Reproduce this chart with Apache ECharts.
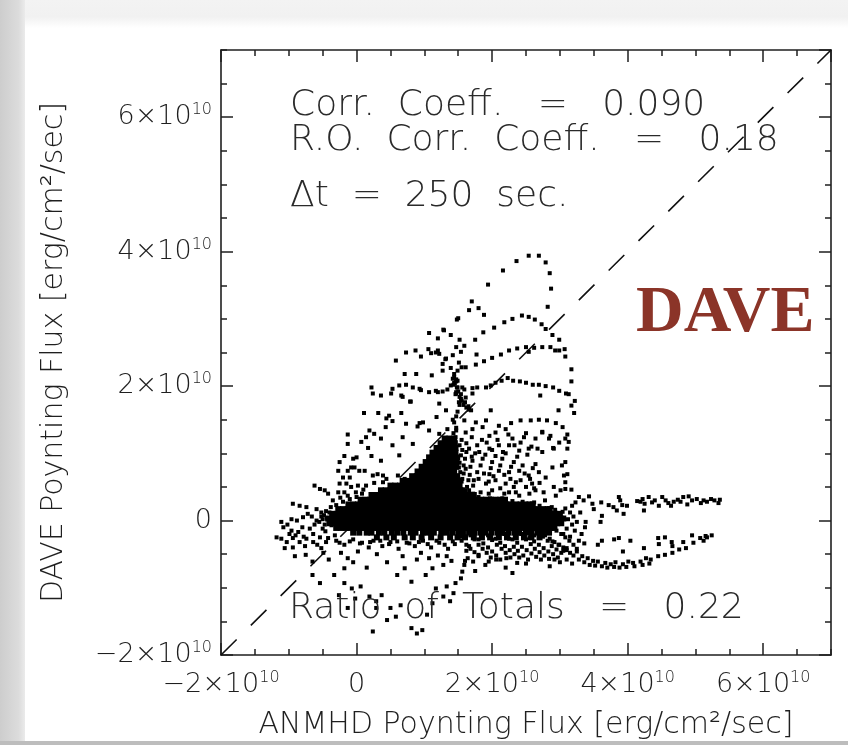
<!DOCTYPE html>
<html>
<head>
<meta charset="utf-8">
<script src="https://cdn.jsdelivr.net/npm/echarts@6/dist/echarts.min.js"></script>
<style>
html, body { margin: 0; padding: 0; background: #ffffff; }
#chart { width: 848px; height: 745px; }
</style>
</head>
<body>
<div id="chart"></div>
<script>
// All flux values are in units of 10^10 erg/cm^2/sec.

// Axis range and ticks
const axisMin = -2;
const axisMax = 7;
const majorStep = 2;
const minorStep = 0.5;
const majorTicks = [-2, 0, 2, 4, 6];

// Dense core of the distribution, stored row by row: [DAVE flux, [ANMHD flux, ...]]
const coreRows = [
  [1.22, [1.30,1.37,1.44]],
  [1.15, [1.24,1.31,1.38,1.45]],
  [1.08, [1.18,1.25,1.32,1.39,1.46]],
  [1.01, [1.12,1.19,1.26,1.33,1.40,1.46]],
  [0.94, [1.07,1.14,1.21,1.27,1.34,1.41,1.47]],
  [0.87, [1.02,1.09,1.15,1.22,1.29,1.36,1.42,1.47]],
  [0.80, [0.96,1.03,1.10,1.16,1.23,1.30,1.37,1.43,1.47]],
  [0.73, [0.90,0.97,1.04,1.10,1.17,1.24,1.31,1.38,1.44]],
  [0.66, [0.82,0.89,0.96,1.02,1.09,1.16,1.23,1.30,1.37,1.44,1.48]],
  [0.59, [0.68,0.75,0.82,0.88,0.95,1.02,1.09,1.16,1.23,1.30,1.36,1.43,1.50]],
  [0.52, [0.50,0.57,0.64,0.71,0.78,0.84,0.91,0.98,1.05,1.12,1.19,1.26,1.32,1.39,1.46,1.52]],
  [0.45, [0.36,0.43,0.50,0.57,0.63,0.70,0.77,0.84,0.91,0.98,1.05,1.11,1.18,1.25,1.32,1.39,1.46,1.53,1.56]],
  [0.38, [0.22,0.29,0.36,0.43,0.49,0.56,0.63,0.70,0.77,0.84,0.91,0.97,1.04,1.11,1.18,1.25,1.32,1.39,1.45,1.52,1.59,1.66,1.73]],
  [0.31, [0.06,0.13,0.20,0.27,0.33,0.40,0.47,0.54,0.61,0.68,0.75,0.81,0.88,0.95,1.02,1.09,1.16,1.23,1.29,1.36,1.43,1.50,1.57,1.64,1.71,1.77,1.84,1.91,1.98,2.05,2.12,2.19]],
  [0.24, [-0.12,-0.05,0.02,0.09,0.15,0.22,0.29,0.36,0.43,0.50,0.57,0.63,0.70,0.77,0.84,0.91,0.98,1.05,1.11,1.18,1.25,1.32,1.39,1.46,1.53,1.59,1.66,1.73,1.80,1.87,1.94,2.01,2.07,2.14,2.21,2.28,2.35,2.42,2.49,2.55,2.60]],
  [0.17, [-0.27,-0.20,-0.13,-0.06,0.01,0.07,0.14,0.21,0.28,0.35,0.42,0.49,0.55,0.62,0.69,0.76,0.83,0.90,0.97,1.03,1.10,1.17,1.24,1.31,1.38,1.45,1.51,1.58,1.65,1.72,1.79,1.86,1.93,1.99,2.06,2.13,2.20,2.27,2.34,2.41,2.47,2.54,2.61,2.68,2.75,2.82,2.85]],
  [0.10, [-0.36,-0.29,-0.22,-0.15,-0.08,-0.02,0.05,0.12,0.19,0.26,0.33,0.40,0.46,0.53,0.60,0.67,0.74,0.81,0.88,0.94,1.01,1.08,1.15,1.22,1.29,1.36,1.42,1.49,1.56,1.63,1.70,1.77,1.84,1.90,1.97,2.04,2.11,2.18,2.25,2.32,2.38,2.45,2.52,2.59,2.66,2.73,2.80,2.86,2.93,3.00]],
  [0.03, [-0.42,-0.35,-0.28,-0.21,-0.14,-0.08,-0.01,0.06,0.13,0.20,0.27,0.34,0.40,0.47,0.54,0.61,0.68,0.75,0.82,0.88,0.95,1.02,1.09,1.16,1.23,1.30,1.36,1.43,1.50,1.57,1.64,1.71,1.78,1.84,1.91,1.98,2.05,2.12,2.19,2.26,2.32,2.39,2.46,2.53,2.60,2.67,2.74,2.80,2.87,2.94,3.01,3.05]],
  [-0.04, [-0.40,-0.33,-0.26,-0.19,-0.12,-0.05,0.01,0.08,0.15,0.22,0.29,0.36,0.43,0.49,0.56,0.63,0.70,0.77,0.84,0.91,0.97,1.04,1.11,1.18,1.25,1.32,1.39,1.45,1.52,1.59,1.66,1.73,1.80,1.87,1.93,2.00,2.07,2.14,2.21,2.28,2.35,2.41,2.48,2.55,2.62,2.69,2.76,2.83,2.89,2.96,3.02]],
  [-0.11, [-0.30,-0.23,-0.16,-0.09,-0.02,0.04,0.11,0.18,0.25,0.32,0.39,0.46,0.52,0.59,0.66,0.73,0.80,0.87,0.94,1.00,1.07,1.14,1.21,1.28,1.35,1.42,1.48,1.55,1.62,1.69,1.76,1.83,1.90,1.96,2.03,2.10,2.17,2.24,2.31,2.38,2.44,2.51,2.58,2.65,2.72,2.79,2.86,2.92]],
  [-0.18, [-0.05,0.04,0.15,0.22,0.33,0.41,0.52,0.60,0.69,0.80,0.87,0.98,1.06,1.14,1.25,1.33,1.41,1.50,1.57,1.66,1.74,1.83,1.90,1.99,2.08,2.15,2.24,2.33,2.40,2.50,2.58,2.67,2.75,2.84]],
  [-0.25, [0.30,0.44,0.55,0.71,0.83,0.96,1.10,1.24,1.38,1.49,1.60,1.73,1.85,1.97,2.10,2.22,2.35,2.47,2.58,2.70]]
];

// Upper arcs: [ANMHD, DAVE]
const arcTop = [
  [1.94,3.51],[2.16,3.72],[2.36,3.86],[2.54,3.94],[2.69,3.94],[2.79,3.84],[2.85,3.68],[2.87,3.45],[2.82,3.18],
  [1.70,3.26],[1.80,3.16],[1.66,3.13],[1.88,3.06],[1.48,2.99],[1.50,3.01]
];
const arcSecond = [
  [1.87,2.80],[2.03,2.87],[2.18,2.95],[2.30,3.00],[2.44,3.05],[2.54,3.03],[2.63,2.99],[2.73,2.92],[2.79,2.85],
  [2.89,2.76],[2.99,2.69],[3.07,2.55],[3.08,2.44],[3.17,2.25],[3.17,2.07],[3.13,1.88],[3.22,1.78],[3.21,1.60]
];
const arcThird = [
  [1.49,2.23],[1.61,2.28],[1.76,2.32],[1.88,2.37],[2.00,2.42],[2.13,2.47],[2.25,2.53],[2.37,2.56],[2.50,2.58],
  [2.62,2.57],[2.74,2.58],[2.86,2.58],[2.99,2.53],[2.54,2.51],[2.93,2.53]
];
const arcFourth = [
  [1.51,1.76],[1.61,1.83],[1.71,1.89],[1.59,1.95],[1.71,1.97],[1.78,1.98],[1.91,1.98],[1.98,2.01],[2.05,2.05],
  [2.14,2.08],[2.23,2.12],[2.31,2.08],[2.41,2.07],[2.50,2.05],[2.60,2.02],[2.69,2.02],[2.79,2.00],[2.90,1.98],
  [2.99,1.93],[3.09,1.89]
];
const arcFifth = [
  [2.10,1.41],[2.28,1.45],[2.42,1.49],[2.57,1.49],[2.69,1.50],[2.81,1.49],[2.94,1.45],[3.04,1.39],[3.11,1.28],
  [3.13,1.17],[3.11,1.07],[2.74,1.31],[2.86,1.26],[2.99,1.16],[3.08,1.22],[2.67,1.07],[2.90,1.08],[2.98,1.64],
  [3.17,1.71],[2.71,1.86]
];

// Scattered points above the core
const upperCloud = [
  [1.07,2.79],[1.28,2.84],[1.20,2.71],[1.39,2.76],[1.29,2.83],[1.52,2.69],[1.59,2.60],[1.47,2.58],[1.75,2.69],
  [0.73,2.50],[0.87,2.53],[0.95,2.44],[1.06,2.55],[1.10,2.49],[1.20,2.53],[1.22,2.48],[1.17,2.50],[1.27,2.33],
  [1.31,2.40],[1.42,2.46],[1.32,2.41],[1.54,2.51],[1.51,2.35],[1.55,2.28],[1.39,2.27],[0.58,2.38],[1.77,2.47],
  [0.71,2.18],[0.88,2.18],[1.11,2.16],[1.27,2.23],[1.44,2.18],[1.49,2.08],[1.56,1.98],[1.47,1.89],[1.42,2.11],
  [1.44,2.13],[1.47,2.07],[1.43,2.02],[1.49,1.98],[1.47,1.91],[1.54,1.88],
  [0.22,1.98],[0.24,1.89],[0.36,1.86],[0.51,1.89],[0.53,1.96],[0.63,2.01],[0.73,2.02],[0.83,1.98],[0.95,1.94],
  [1.07,1.91],[1.20,1.91],[0.66,1.86],[0.79,1.77],[1.22,1.74],[0.93,1.96],[1.17,1.93],[1.27,1.92],[1.34,1.95],
  [1.39,2.01],[1.44,2.05],[0.68,1.84],[0.80,1.77],
  [0.11,1.60],[0.32,1.60],[0.48,1.56],[0.66,1.60],[0.93,1.45],[0.73,1.44],[0.53,1.48],[1.18,1.54],[1.32,1.64],
  [1.42,1.50],[0.44,1.52],[0.43,1.39],[0.98,1.46],[0.90,1.40],
  [-0.13,1.28],[-0.13,1.14],[0.07,1.17],[0.19,1.34],[0.26,1.29],[0.36,1.22],[0.53,1.12],[0.68,1.24],[0.83,1.14],
  [1.07,1.34],[1.22,1.29],[1.34,1.36],[1.47,1.34],[0.14,1.24]
];

// Dotted streak that runs up from the top of the core
const streak = [
  [1.47,2.10],[1.45,2.04],[1.48,1.98],[1.50,1.92],[1.46,1.88],[1.52,1.84],[1.55,1.78],[1.58,1.72],[1.62,1.68],
  [1.66,1.65],[1.52,1.72],[1.49,1.62],[1.47,1.55],[1.44,1.46],[1.47,1.38],[1.43,1.30],[1.46,1.24],
  [1.54,1.81],[1.60,1.76],[1.65,1.70],[1.69,1.64]
];

// Left flank of the core
const leftCloud = [
  [0.17,1.08],[0.22,0.96],[0.36,0.89],[-0.18,0.96],[-0.25,0.87],[-0.05,0.92],[0.00,0.94],[-0.08,0.79],[-0.13,0.74],
  [-0.03,0.79],[0.04,0.74],[0.12,0.74],[-0.27,0.74],[-0.20,0.64],[-0.10,0.64],[0.24,0.67],[0.31,0.69],[0.39,0.67],
  [0.44,0.62],[-0.25,0.55],[-0.15,0.55],[-0.08,0.50],[0.02,0.52],[0.14,0.52],[0.26,0.56],[0.39,0.57],[-0.27,0.42],
  [-0.18,0.42],[-0.13,0.37],[-0.01,0.42],[0.10,0.46],[-0.62,0.52],[-0.54,0.47],[-0.47,0.45],[-0.42,0.40],
  [-0.94,0.25],[-0.84,0.22],[-0.74,0.20],[-0.72,0.10],[-0.96,0.02],[-0.79,0.05],[-0.59,0.17],[-0.52,0.12],
  [-0.40,0.12],[-0.59,0.00],[-1.11,-0.02],[-1.08,-0.10],[-1.18,-0.25],[-1.11,-0.27],[-1.03,-0.32],[-0.94,-0.26],
  [-0.84,-0.32],[-0.74,-0.27],[-0.64,-0.32],[-0.54,-0.25],[-0.45,-0.32],[-0.96,-0.15],[-0.86,-0.17],[-0.69,-0.12],
  [-0.50,-0.12],[-0.37,-0.07],[-0.32,-0.22],
  [-0.99,-0.20],[-0.90,-0.22],[-0.80,-0.10],[-0.78,-0.24],[-0.64,-0.20],[-0.62,-0.06],[-0.55,-0.02],[-0.46,-0.16],
  [-0.44,0.04],[-0.48,0.08],[-0.66,0.06],[-0.88,0.00],[-1.02,-0.06],[-0.42,-0.26],[-0.58,-0.36],[-0.76,-0.38],
  [-0.94,-0.40],
  [-0.50,0.02],[-0.47,-0.06],[-0.52,0.06],[-0.45,0.14],[-0.38,0.20],[-0.30,0.23],[-0.20,0.28],[-0.10,0.32],
  [0.00,0.35],[0.08,0.40],[-0.35,0.30],[-0.24,0.34]
];

// Right of the core peak
const midCloud = [
  [0.63,0.97],[0.61,0.67],[0.71,0.62],[1.59,1.49],[1.76,1.46],[1.91,1.49],[1.98,1.64],
  [1.61,1.31],[1.71,1.36],[1.86,1.39],[1.96,1.26],[2.05,1.31],[2.20,1.36],[2.30,1.22],[2.47,1.24],[2.64,1.22],
  [2.84,1.22],[2.74,1.32],[2.91,1.07],[2.74,1.02],[2.54,1.07],[2.40,1.04],[2.25,1.12],[2.10,1.12],[1.96,1.07],
  [1.81,1.02],[1.66,1.07],[1.54,0.97],[1.71,0.89],[1.86,0.92],[2.00,0.87],[2.15,0.92],[2.32,0.87],[2.45,0.82],
  [2.64,0.84],[2.89,0.79],[2.79,0.64],[2.69,0.72],[2.54,0.67],[2.40,0.74],[2.25,0.72],[2.10,0.74],[1.96,0.69],
  [1.78,0.72],[1.61,0.77],[1.56,0.62],[1.73,0.60],[1.91,0.55],[2.05,0.60],[2.20,0.55],[2.35,0.57],[2.50,0.50],
  [2.64,0.45],[2.76,0.42],[2.91,0.50],[2.94,0.37],[2.59,0.55],[1.66,0.45],[1.83,0.42],[2.00,0.45],[2.18,0.40],
  [2.35,0.42],
  [1.55,1.20],[1.62,1.15],[1.70,1.24],[1.78,1.12],[1.85,1.20],[1.92,1.16],[2.00,1.05],[2.08,1.20],[2.16,1.02],
  [2.24,1.28],[2.33,1.12],[2.42,1.16],[2.50,1.30],[2.58,1.10],[1.52,0.86],[1.60,0.92],[1.68,0.80],[1.75,1.00],
  [1.83,0.82],[1.90,0.98],[1.98,0.78],[2.05,0.96],[2.12,0.82],[2.20,1.00],[2.28,0.80],[2.37,0.95],[2.52,0.98],
  [2.60,0.78],[1.52,0.55],[1.58,0.70],[1.65,0.60],[1.72,0.52],[1.80,0.62],[1.88,0.70],[1.95,0.58],[2.02,0.66],
  [2.12,0.48],[2.18,0.68],[2.27,0.62],[2.32,0.50],[2.42,0.60],[2.48,0.70],[2.56,0.62],[2.62,0.48],[2.70,0.56],
  [1.60,0.44],[1.72,0.40],[1.95,0.40],[2.25,0.42],[2.40,0.37],[2.55,0.40],
  [3.08,0.87],[3.06,0.67],[3.11,0.69],[3.08,0.57],[3.01,0.45],[3.08,0.47],[3.17,0.46],[3.03,0.82],
  [1.50,0.50],[1.55,0.58],[1.53,0.72],[1.58,0.82],[1.50,0.92],[1.56,1.05],[1.52,1.12],[1.63,0.50],[1.67,0.68],
  [1.70,0.95],[1.62,1.02],[1.50,0.66],[1.51,0.79],
  [1.80,0.35],[1.97,0.33],[2.15,0.33],[2.30,0.29],[2.45,0.28],[2.62,0.27],[2.70,0.22],[2.78,0.30],[2.88,0.20],
  [2.93,0.16],[3.04,0.13]
];

// Right end of the core
const coreEnd = [
  [3.28,0.35],[3.43,0.36],[3.35,0.30],[3.48,0.25],[3.50,0.17],[3.23,0.27],[3.30,0.12],[3.18,0.22],[3.61,0.27],
  [3.72,0.23],[3.79,0.20],[3.87,0.35],[3.89,0.30],[3.92,0.23],[3.99,0.22],[3.84,0.15],[3.94,0.10],[3.62,0.07],
  [3.60,-0.02],[3.38,-0.02],[3.37,-0.10],
  [3.08,0.18],[3.15,0.12],[3.12,0.02],[3.20,0.06],[3.18,-0.06],[3.25,-0.02],[3.10,-0.12],[3.22,-0.15],
  [3.32,-0.20],[3.05,-0.20],[3.15,-0.24],[3.28,-0.30],[3.36,-0.34]
];

// Upper right branch
const upperBranch = [
  [4.14,0.29],[4.19,0.28],[4.25,0.25],[4.31,0.35],[4.36,0.27],[4.46,0.22],[4.51,0.35],[4.60,0.26],[4.68,0.28],
  [4.74,0.31],[4.82,0.35],[4.90,0.36],[5.02,0.32],[5.08,0.26],[5.17,0.28],[5.23,0.32],[5.34,0.26],[5.36,0.31],
  [4.24,0.15],[4.22,0.32],[4.40,0.30],[4.56,0.30],[4.64,0.22],[4.78,0.28],[4.95,0.30],[5.12,0.30],[5.28,0.30],
  [4.88,0.24]
];

// Lower right branch
const lowerBranch = [
  [2.89,-0.31],[2.99,-0.36],[3.10,-0.41],[3.15,-0.48],[3.25,-0.46],[3.33,-0.53],[3.41,-0.56],[3.49,-0.60],
  [3.56,-0.61],[3.67,-0.63],[3.75,-0.65],[3.82,-0.62],[3.93,-0.65],[4.01,-0.61],[4.08,-0.63],[4.19,-0.61],
  [4.27,-0.56],[4.34,-0.58],[4.45,-0.53],[4.55,-0.51],[4.66,-0.48],[4.76,-0.43],[4.86,-0.41],[4.97,-0.33],
  [5.07,-0.26],[5.15,-0.23],
  [3.56,-0.36],[3.80,-0.28],[3.93,-0.46],[4.24,-0.41],[4.45,-0.26],[4.66,-0.38],
  [3.05,-0.45],[3.20,-0.52],[3.28,-0.58],[3.36,-0.62],[3.44,-0.66],[3.52,-0.67],[3.62,-0.68],[3.70,-0.70],
  [3.80,-0.69],[3.88,-0.70],[3.98,-0.69],[4.10,-0.68],[4.22,-0.66],[4.32,-0.64],
  [3.62,-0.30],[3.87,-0.26],[4.04,-0.30],[4.46,-0.35],[4.55,-0.25],[4.65,-0.32],[4.82,-0.32],[4.95,-0.22],
  [5.12,-0.30],[5.17,-0.25],[5.24,-0.22],
  [2.92,-0.58],[3.00,-0.62],[3.10,-0.58],[3.18,-0.64]
];

// Striated region under the core
const underCore = [
  [1.55,-0.30],[1.62,-0.36],[1.68,-0.42],[1.74,-0.47],[1.80,-0.53],
  [1.80,-0.28],[1.87,-0.34],[1.94,-0.40],[2.00,-0.46],[2.06,-0.52],[2.12,-0.58],
  [2.05,-0.27],[2.12,-0.33],[2.19,-0.38],[2.26,-0.44],[2.33,-0.50],[2.40,-0.55],
  [2.30,-0.28],[2.37,-0.33],[2.44,-0.39],[2.51,-0.44],[2.58,-0.49],[2.65,-0.54],[2.72,-0.58],
  [2.55,-0.26],[2.62,-0.31],[2.69,-0.36],[2.76,-0.41],[2.83,-0.46],[2.90,-0.50],[2.97,-0.55],
  [2.78,-0.22],[2.85,-0.27],[2.92,-0.32],[2.98,-0.36],[3.05,-0.40],[3.10,-0.44],
  [2.95,-0.15],[3.02,-0.20],[3.08,-0.25],[3.14,-0.30],[3.20,-0.36],[3.25,-0.42],
  [1.68,-0.22],[1.74,-0.28],[1.80,-0.36],[1.86,-0.42],[1.92,-0.48],[1.98,-0.55],
  [1.94,-0.22],[2.00,-0.29],[2.07,-0.36],[2.14,-0.42],[2.20,-0.48],[2.27,-0.55],
  [2.18,-0.20],[2.25,-0.27],[2.32,-0.39],[2.38,-0.45],[2.46,-0.52],[2.53,-0.58],
  [2.43,-0.20],[2.50,-0.28],[2.57,-0.35],[2.63,-0.42],[2.70,-0.47],[2.77,-0.52],[2.84,-0.57],
  [2.68,-0.18],[2.75,-0.24],[2.82,-0.30],[2.88,-0.38],[2.95,-0.43],[3.02,-0.48],
  [1.60,-0.60],[1.90,-0.66],[2.20,-0.70],[2.50,-0.64],[2.85,-0.68],[1.75,-0.75],[2.30,-0.78],
  [-0.30,-0.30],[-0.18,-0.36],[-0.05,-0.28],[0.08,-0.33],[0.18,-0.40],[0.25,-0.30],[0.38,-0.38],[0.50,-0.32],
  [0.62,-0.42],[0.74,-0.33],[0.86,-0.38],[0.98,-0.30],[1.10,-0.40],[1.22,-0.33],[1.35,-0.42],[1.45,-0.35],
  [0.02,-0.46],[0.30,-0.50],[0.45,-0.62],[0.95,-0.48],[1.20,-0.52],[1.40,-0.60],[-0.05,-0.62],[0.15,-0.70],
  [-0.25,-0.33],[-0.10,-0.31],[0.05,-0.34],[0.20,-0.32],[0.35,-0.30],[0.48,-0.35],[0.60,-0.31],[0.78,-0.34],
  [0.92,-0.32],[1.05,-0.35],[1.18,-0.30],[1.30,-0.36],[1.42,-0.31],[1.55,-0.24],[1.85,-0.22],[2.62,-0.22],
  [2.80,-0.16]
];

// Sparse points below the core
const lowerCloud = [
  [-1.06,-0.41],[-0.52,-0.41],[-0.91,-0.53],[-0.75,-0.51],[-0.65,-0.61],[-0.49,-0.48],[-0.41,-0.58],[-0.23,-0.48],
  [-0.13,-0.56],[0.60,-0.81],[0.71,-0.71],[0.81,-0.91],[1.02,-0.81],[1.12,-0.71],[0.68,-0.53],[0.89,-0.58],
  [1.07,-0.56],[1.28,-0.66],[1.33,-0.53],[1.72,-0.61],[1.80,-0.51],[1.95,-0.61],[2.06,-0.58],[2.21,-0.56],
  [2.37,-0.63],[1.46,-0.93],[1.54,-0.86],[1.56,-0.76],[1.59,-0.66],[1.64,-0.56],[1.62,-0.45],[1.66,-0.38],
  [1.43,-1.08],[1.33,-0.98],[1.38,-1.20],[1.28,-1.13],[1.17,-1.01],[1.12,-1.23],[1.04,-1.40],[0.97,-1.63],
  [0.89,-1.68],[0.81,-1.60],[0.65,-1.26],[0.58,-1.43],[0.45,-1.48],[0.24,-1.65],[0.50,-1.30],[0.29,-1.30],
  [0.37,-1.11],[0.29,-1.20],[0.19,-1.13],[-0.02,-1.16],[-0.13,-1.30],[-0.26,-1.11],[-0.07,-1.01],[0.06,-0.98],
  [-0.18,-0.93],[-0.54,-0.93],[-0.65,-0.81],[-0.33,-0.81],[-0.18,-0.71]
];

// One-to-one reference line
const diagonal = [[-2, -2], [7, 7]];

// Annotations
const statLines = ['Corr.  Coeff.   =   0.090', 'R.O.  Corr.  Coeff.   =   0.18', '\u0394t  =  250  sec.'];
const ratioText = 'Ratio  of  Totals   =   0.22';
const methodName = 'DAVE';
const xTitle = 'ANMHD Poynting Flux [erg/cm\u00B2/sec]';
const yTitle = 'DAVE Poynting Flux [erg/cm\u00B2/sec]';

const corePoints = [];
coreRows.forEach(function (row) {
  row[1].forEach(function (x) { corePoints.push([x, row[0]]); });
});
const spreadPoints = [].concat(arcTop, arcSecond, arcThird, arcFourth, arcFifth, upperCloud, streak,
  leftCloud, midCloud, coreEnd, upperBranch, lowerBranch, underCore, lowerCloud);

const INK = '#1f1f1f';
const THIN = '"DejaVu Sans", sans-serif';

function tickLabel(v) {
  if (majorTicks.indexOf(v) < 0) return '';
  if (v === 0) return '{b|0}';
  return '{b|' + (v < 0 ? '\u2212' : '') + Math.abs(v) + '\u00D710}{s|10}';
}
const tickRich = {
  b: { fontFamily: THIN, fontWeight: 200, fontSize: 27, color: INK, lineHeight: 30 },
  s: { fontFamily: THIN, fontWeight: 200, fontSize: 16, color: INK, lineHeight: 16, verticalAlign: 'top' }
};

function frameAxis(pos, step, tickLen, showLine, showLabel, extra) {
  const ax = {
    type: 'value', min: axisMin, max: axisMax, interval: step, position: pos,
    axisLine: { show: showLine, onZero: false, lineStyle: { color: INK, width: 1.6 } },
    axisTick: { show: true, inside: true, length: tickLen, lineStyle: { color: INK, width: 1.5 } },
    splitLine: { show: false },
    axisLabel: showLabel
      ? { show: true, formatter: tickLabel, rich: tickRich, showMaxLabel: false }
      : { show: false }
  };
  return Object.assign(ax, extra || {});
}

const nameStyle = { fontFamily: THIN, fontWeight: 200, fontSize: 30, color: INK };

const option = {
  backgroundColor: '#ffffff',
  animation: false,
  grid: { left: 221, top: 50, right: 17, bottom: 90, containLabel: false },
  xAxis: [
    frameAxis('bottom', majorStep, 12, true, true, {
      name: xTitle, nameLocation: 'middle', nameGap: 55, nameTextStyle: nameStyle,
      axisLabel: { show: true, formatter: tickLabel, rich: tickRich, margin: 15, showMaxLabel: false }
    }),
    frameAxis('bottom', minorStep, 6, false, false),
    frameAxis('top', majorStep, 12, true, false),
    frameAxis('top', minorStep, 6, false, false)
  ],
  yAxis: [
    frameAxis('left', majorStep, 12, true, true, {
      name: yTitle, nameLocation: 'middle', nameGap: 152, nameRotate: 90, nameTextStyle: nameStyle,
      axisLabel: { show: true, formatter: tickLabel, rich: tickRich, margin: 9, showMaxLabel: false }
    }),
    frameAxis('left', minorStep, 6, false, false),
    frameAxis('right', majorStep, 12, true, false),
    frameAxis('right', minorStep, 6, false, false)
  ],
  series: [
    {
      name: 'one-to-one', type: 'line', data: diagonal, xAxisIndex: 0, yAxisIndex: 0,
      showSymbol: false, symbol: 'none', silent: true, z: 3,
      lineStyle: { color: '#111111', width: 1.6, type: [22, 20] }
    },
    {
      name: 'core', type: 'scatter', data: corePoints, xAxisIndex: 0, yAxisIndex: 0,
      symbol: 'rect', symbolSize: 6, silent: true, z: 4,
      itemStyle: { color: '#000000', opacity: 1 }
    },
    {
      name: 'points', type: 'scatter', data: spreadPoints, xAxisIndex: 0, yAxisIndex: 0,
      symbol: 'rect', symbolSize: 4, silent: true, z: 4,
      itemStyle: { color: '#000000', opacity: 1 }
    }
  ],
  graphic: {
    elements: [
      {
        type: 'rect', z: -10, silent: true,
        shape: { x: 0, y: 0, width: 25, height: 745 },
        style: { fill: new echarts.graphic.LinearGradient(0, 0, 1, 0, [
          { offset: 0, color: '#cdcdcd' }, { offset: 0.75, color: '#dcdcdc' }, { offset: 1, color: '#ebebeb' }
        ]) }
      },
      {
        type: 'rect', z: -10, silent: true,
        shape: { x: 25, y: 0, width: 823, height: 28 },
        style: { fill: new echarts.graphic.LinearGradient(0, 0, 0, 1, [
          { offset: 0, color: '#f3f3f3' }, { offset: 0.6, color: '#f1f1f1' }, { offset: 1, color: '#ffffff' }
        ]) }
      },
      {
        type: 'rect', z: -10, silent: true,
        shape: { x: 0, y: 741, width: 848, height: 4 },
        style: { fill: '#bdbdbd' }
      },
      {
        type: 'text', z: 100, silent: true, x: 290, y: 106,
        style: { text: statLines[0], fontFamily: THIN, fontWeight: 200, fontSize: 36, fill: '#2a2a2a', verticalAlign: 'middle' }
      },
      {
        type: 'text', z: 100, silent: true, x: 290, y: 141,
        style: { text: statLines[1], fontFamily: THIN, fontWeight: 200, fontSize: 36, fill: '#2a2a2a', verticalAlign: 'middle' }
      },
      {
        type: 'text', z: 100, silent: true, x: 290, y: 197,
        style: { text: statLines[2], fontFamily: THIN, fontWeight: 200, fontSize: 36, fill: '#2a2a2a', verticalAlign: 'middle' }
      },
      {
        type: 'text', z: 100, silent: true, x: 289, y: 609,
        style: { text: ratioText, fontFamily: THIN, fontWeight: 200, fontSize: 36, fill: '#2a2a2a', verticalAlign: 'middle' }
      },
      {
        type: 'text', z: 100, silent: true, x: 636, y: 314,
        style: { text: methodName, fontFamily: '"Liberation Serif", serif', fontWeight: 'bold', fontSize: 66, fill: '#8b3428', verticalAlign: 'middle' }
      }
    ]
  }
};

const chart = echarts.init(document.getElementById('chart'), null, { renderer: 'canvas', width: 848, height: 745 });
chart.setOption(option);
</script>
</body>
</html>
